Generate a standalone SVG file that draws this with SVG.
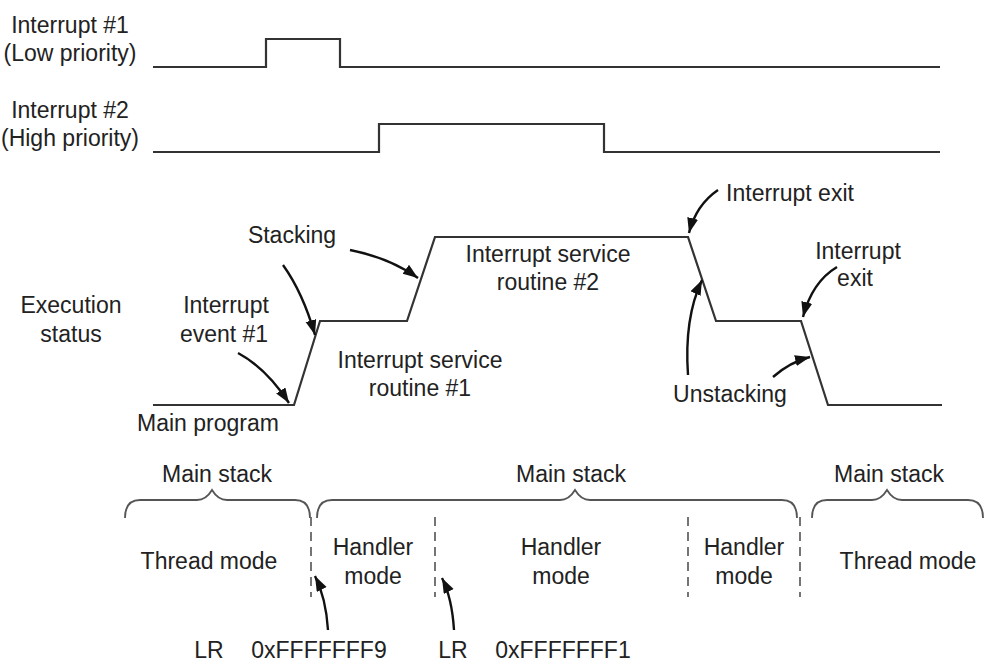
<svg xmlns="http://www.w3.org/2000/svg" width="986" height="662" viewBox="0 0 986 662">
<style>
text{font-family:"Liberation Sans",Arial,sans-serif;font-size:23px;fill:#222;text-anchor:middle}
.sig{fill:none;stroke:#333;stroke-width:2.2}
.arr{fill:none;stroke:#111;stroke-width:2.4;marker-end:url(#ah)}
.brace{fill:none;stroke:#555;stroke-width:1.8}
.dash{stroke:#666;stroke-width:1.8;stroke-dasharray:9,6}
</style>
<defs>
<marker id="ah" markerUnits="userSpaceOnUse" markerWidth="16" markerHeight="12" refX="15" refY="5.5" orient="auto">
<path d="M0,0 L15,5.5 L0,11 z" fill="#111"/>
</marker>
</defs>
<rect width="986" height="662" fill="#fff"/>

<g id="signal-int1">
<text x="70" y="33">Interrupt #1</text>
<text x="70" y="61">(Low priority)</text>
<path class="sig" d="M153,67 L266,67 L266,39 L340,39 L340,67 L940,67"/>
</g>
<g id="signal-int2">
<text x="70" y="118">Interrupt #2</text>
<text x="70" y="146">(High priority)</text>
<path class="sig" d="M153,152 L379,152 L379,124 L604,124 L604,152 L940,152"/>
</g>
<g id="execution">
<text x="71" y="313">Execution</text>
<text x="71" y="342">status</text>
<path class="sig" d="M153,405 L294,405 L320,321 L407,321 L435,237 L688,237 L716,321 L801,321 L828,405 L942,405"/>
</g>

<g id="lbl-main-program"><text x="208" y="431">Main program</text></g>
<g id="lbl-int-event"><text x="226" y="313">Interrupt</text><text x="224" y="342">event #1</text></g>
<g id="lbl-stacking"><text x="292" y="243">Stacking</text></g>
<g id="lbl-isr1"><text x="420" y="368">Interrupt service</text><text x="420" y="396">routine #1</text></g>
<g id="lbl-isr2"><text x="548" y="262">Interrupt service</text><text x="548" y="290">routine #2</text></g>
<g id="lbl-exit1"><text x="790" y="201">Interrupt exit</text></g>
<g id="lbl-exit2"><text x="858" y="259">Interrupt</text><text x="855" y="286">exit</text></g>
<g id="lbl-unstacking"><text x="730" y="402">Unstacking</text></g>

<g id="stack-left">
<text x="217" y="482">Main stack</text>
<path class="brace" d="M125,518 Q125,500 140,500 L197,500 Q206,500 212,490 Q218,500 227,500 L295,500 Q310,500 310,518"/>
</g>
<g id="stack-mid">
<text x="571" y="482">Main stack</text>
<path class="brace" d="M317,518 Q317,500 332,500 L560,500 Q569,500 575,490 Q581,500 590,500 L782,500 Q797,500 797,518"/>
</g>
<g id="stack-right">
<text x="889" y="482">Main stack</text>
<path class="brace" d="M812,518 Q812,500 827,500 L872,500 Q881,500 887,490 Q893,500 902,500 L968,500 Q983,500 983,518"/>
</g>

<g id="mode-dividers">
<line class="dash" x1="311" y1="517" x2="311" y2="597"/>
<line class="dash" x1="435" y1="517" x2="435" y2="597"/>
<line class="dash" x1="688" y1="517" x2="688" y2="597"/>
<line class="dash" x1="800" y1="517" x2="800" y2="597"/>
</g>
<g id="mode-thread-left"><text x="209" y="569">Thread mode</text></g>
<g id="mode-handler1"><text x="373" y="555">Handler</text><text x="373" y="584">mode</text></g>
<g id="mode-handler2"><text x="561" y="555">Handler</text><text x="561" y="584">mode</text></g>
<g id="mode-handler3"><text x="744" y="555">Handler</text><text x="744" y="584">mode</text></g>
<g id="mode-thread-right"><text x="908" y="569">Thread mode</text></g>

<g id="lr1"><text x="209" y="658">LR</text><text x="319" y="658">0xFFFFFFF9</text></g>
<g id="lr2"><text x="453" y="658">LR</text><text x="563" y="658">0xFFFFFFF1</text></g>

<g id="connectors">
<path class="arr" d="M238,353 Q266,368 289,403"/>
<path class="arr" d="M283,265 Q303,293 315,335"/>
<path class="arr" d="M350,250 Q390,258 418,278"/>
<path class="arr" d="M718,190 Q696,205 689,233"/>
<path class="arr" d="M837,267 Q812,282 803,317"/>
<path class="arr" d="M688,375 Q684,318 702,280"/>
<path class="arr" d="M773,377 Q790,362 810,357"/>
<path class="arr" d="M328,630 Q326,598 315,576"/>
<path class="arr" d="M454,630 Q452,598 442,578"/>
</g>
</svg>
